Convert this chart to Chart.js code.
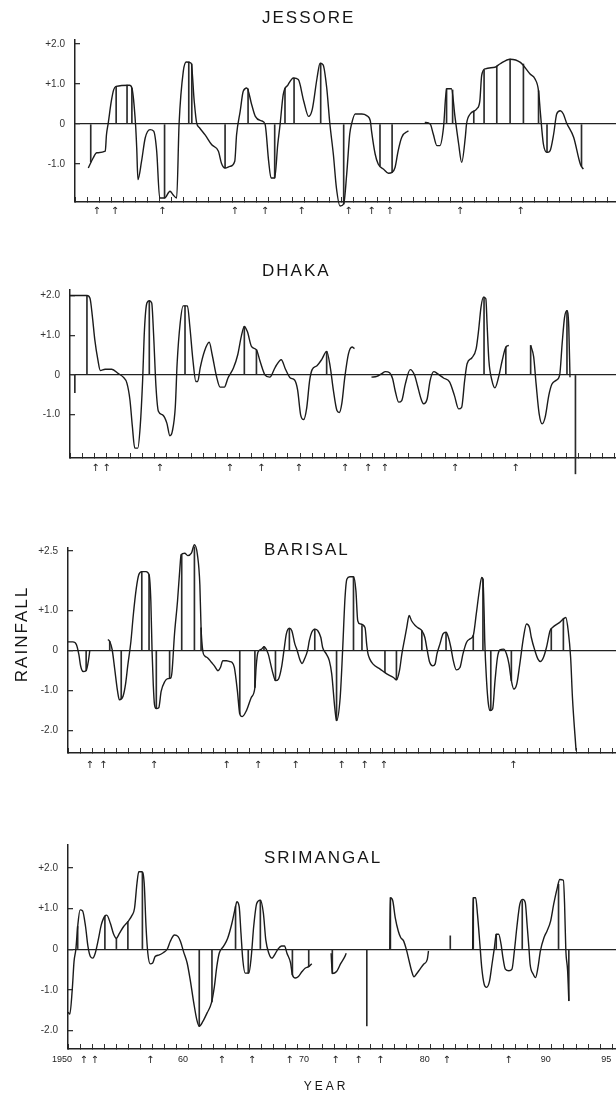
<!DOCTYPE html>
<html>
<head>
<meta charset="utf-8">
<title>Rainfall anomalies</title>
<script src="https://cdn.jsdelivr.net/npm/chart.js@4.4.1/dist/chart.umd.min.js"></script>
<style>
    html, body { margin: 0; padding: 0; background: #fff; }
    #wrap { position: relative; width: 616px; height: 1097px; overflow: hidden; }
    .panel { position: absolute; left: 0; width: 616px; }
</style>
</head>
<body>
<div id="wrap">
    <div class="panel" style="top:0;height:250px"><canvas id="jessore"></canvas></div>
    <div class="panel" style="top:250px;height:275px"><canvas id="dhaka"></canvas></div>
    <div class="panel" style="top:525px;height:285px"><canvas id="barisal"></canvas></div>
    <div class="panel" style="top:810px;height:287px"><canvas id="srimangal"></canvas></div>
</div>
<script>
// ---- data (year, standardised rainfall anomaly) ----
// null = break in the curve

const decadeTicks = [1950, 1960, 1970, 1980, 1990, 1995];
const decadeLabels = ["1950", "60", "70", "80", "90", "95"];

// JESSORE
const jessoreYears = [1951.1, 1951.5, 1951.8, 1952.5, 1952.6, 1952.75, 1953.0, 1953.2, 1953.4, 1954.5, 1954.7, 1955.0, 1955.1, 1955.2, 1955.5, 1955.8, 1956.2, 1956.5, 1956.75, 1957.0, 1957.4, 1957.85, 1958.1, 1958.4, 1958.6, 1958.95, 1959.2, 1959.6, 1959.85, 1960.05, 1960.3, 1960.75, 1961.3, 1961.85, 1962.1, 1962.4, 1962.8, 1963.2, 1963.35, 1963.65, 1963.9, 1964.2, 1964.6, 1964.9, 1965.4, 1965.7, 1966.0, 1966.2, 1966.5, 1966.75, 1966.95, 1967.2, 1967.6, 1968.05, 1968.45, 1968.9, 1969.3, 1969.6, 1970.0, 1970.25, 1970.5, 1970.8, 1971.05, 1971.35, 1971.6, 1971.9, 1972.2, 1972.45, 1972.7, 1972.85, 1973.15, 1973.7, 1974.1, 1974.4, 1974.5, 1974.8, 1975.05, 1975.5, 1975.9, 1976.2, 1976.45, 1976.7, 1977.0, 1977.55, 1978.2, 1978.9, 1979.35, 1979.6, 1979.9, 1980.15, 1980.45, 1980.7, 1981.1, 1981.4, 1981.7, 1981.95, 1982.25, 1982.35, 1982.65, 1983.2, 1983.45, 1983.6, 1983.9, 1984.7, 1985.1, 1985.95, 1986.8, 1987.6, 1988.0, 1988.3, 1988.45, 1988.7, 1989.0, 1989.25, 1989.55, 1989.8, 1990.1, 1990.35, 1990.6, 1991.2, 1991.75, 1992.0];
const jessoreRain = [-1.10, -0.85, -0.72, -0.68, -0.27, 0.03, 0.57, 0.86, 0.94, 0.97, 0.90, 0.0, -0.60, -1.39, -0.93, -0.35, -0.14, -0.18, -0.68, -1.85, -1.85, -1.68, -1.77, -1.85, 0.0, 1.32, 1.55, 1.52, 0.57, 0.03, -0.10, -0.27, -0.52, -0.68, -0.98, -1.10, -1.06, -0.93, -0.27, 0.32, 0.82, 0.90, 0.48, 0.19, 0.08, 0.0, -0.93, -1.35, -1.35, -0.52, 0.0, 0.73, 0.98, 1.15, 1.11, 0.57, 0.19, 0.36, 1.15, 1.52, 1.48, 0.90, 0.03, -0.77, -1.60, -2.05, -2.0, -1.25, -0.25, 0.0, 0.25, 0.25, 0.21, 0.08, -0.17, -0.75, -1.0, -1.13, -1.23, -1.21, -1.08, -0.67, -0.33, -0.17, null, 0.04, 0.0, -0.25, -0.54, -0.54, -0.08, 0.88, 0.88, 0.17, -0.50, -0.96, -0.33, 0.0, 0.25, 0.38, 0.58, 1.21, 1.38, 1.42, 1.50, 1.62, 1.54, 1.25, 1.13, 0.83, 0.29, -0.50, -0.71, -0.67, -0.25, 0.25, 0.33, 0.25, 0.04, -0.33, -1.0, -1.13];
const jessoreStemYears = [1951.3, 1953.4, 1954.3, 1954.7, 1957.4, 1959.4, 1959.65, 1962.4, 1964.3, 1966.5, 1967.35, 1968.1, 1970.3, 1972.2, 1975.2, 1976.2, 1980.7, 1981.2, 1982.95, 1983.8, 1984.85, 1985.95, 1987.05, 1988.3, 1989.0, 1991.85];
const jessoreStemRain = [-0.95, 0.94, 0.97, 0.90, -1.85, 1.55, 1.50, -1.10, 0.88, -1.35, 0.90, 1.15, 1.52, -2.0, -1.05, -1.21, 0.88, 0.85, 0.32, 1.35, 1.45, 1.62, 1.50, 0.83, -0.71, -1.05];
const jessoreArrows = [1951.8, 1953.3, 1957.2, 1963.2, 1965.7, 1968.7, 1972.6, 1974.5, 1976.0, 1981.8, 1986.8];

// DHAKA
const dhakaYears = [1950.0, 1951.4, 1951.65, 1951.85, 1952.05, 1952.3, 1952.5, 1952.9, 1953.45, 1954.0, 1954.4, 1954.7, 1954.95, 1955.15, 1955.35, 1955.6, 1955.8, 1956.0, 1956.15, 1956.35, 1956.55, 1956.75, 1956.9, 1957.1, 1957.3, 1957.65, 1958.0, 1958.25, 1958.45, 1958.7, 1958.85, 1959.1, 1959.35, 1959.7, 1959.9, 1960.15, 1960.4, 1960.55, 1960.75, 1961.1, 1961.5, 1961.75, 1962.1, 1962.4, 1962.75, 1963.05, 1963.5, 1963.85, 1964.15, 1964.4, 1964.65, 1965.0, 1965.4, 1965.7, 1966.1, 1966.5, 1966.95, 1967.45, 1967.8, 1968.2, 1968.55, 1968.8, 1969.05, 1969.3, 1969.55, 1969.8, 1970.0, 1970.4, 1970.8, 1971.2, 1971.5, 1971.75, 1972.05, 1972.25, 1972.45, 1972.7, 1973.0, 1973.3, 1973.5, 1974.2, 1974.9, 1975.35, 1975.75, 1976.05, 1976.4, 1976.65, 1976.85, 1977.15, 1977.4, 1977.7, 1978.1, 1978.45, 1978.7, 1979.0, 1979.2, 1979.5, 1979.75, 1980.05, 1980.35, 1980.85, 1981.35, 1981.75, 1982.1, 1982.35, 1982.6, 1982.8, 1983.2, 1983.55, 1983.75, 1983.95, 1984.15, 1984.35, 1984.45, 1984.6, 1984.85, 1985.1, 1985.4, 1985.7, 1986.0, 1986.25, 1987.1, 1988.05, 1988.3, 1988.5, 1988.75, 1989.0, 1989.25, 1989.55, 1989.8, 1990.15, 1990.45, 1990.65, 1990.85, 1991.05, 1991.2, 1991.3];
const dhakaRain = [2.0, 2.0, 1.93, 1.47, 0.88, 0.38, 0.11, 0.14, 0.14, 0.03, -0.06, -0.21, -0.63, -1.30, -1.85, -1.85, -1.30, -0.13, 1.13, 1.81, 1.87, 1.81, 1.05, -0.29, -0.92, -1.01, -1.22, -1.54, -1.43, -0.80, 0.29, 1.30, 1.74, 1.74, 1.22, 0.38, -0.17, -0.17, 0.17, 0.59, 0.82, 0.50, -0.04, -0.31, -0.31, -0.08, 0.17, 0.50, 0.97, 1.22, 1.09, 0.71, 0.63, 0.34, 0.0, -0.06, 0.19, 0.38, 0.14, -0.08, -0.13, -0.38, -1.01, -1.13, -0.84, -0.13, 0.13, 0.23, 0.39, 0.59, 0.19, -0.38, -0.90, -0.95, -0.73, -0.06, 0.53, 0.70, 0.66, null, -0.06, -0.04, 0.03, 0.08, 0.05, -0.10, -0.39, -0.69, -0.65, -0.23, 0.13, 0.0, -0.27, -0.61, -0.73, -0.61, -0.14, 0.08, 0.03, -0.08, -0.18, -0.52, -0.86, -0.82, -0.14, 0.28, 0.43, 0.66, 1.12, 1.71, 1.96, 1.92, 1.29, 0.36, -0.14, -0.33, -0.06, 0.36, 0.70, 0.74, null, 0.74, 0.45, -0.23, -0.98, -1.24, -1.07, -0.52, -0.24, -0.14, 0.0, 0.78, 1.45, 1.62, 1.20, -0.06];
const dhakaStemYears = [1950.4, 1951.4, 1956.55, 1959.5, 1964.4, 1965.4, 1971.2, 1984.2, 1986.0, 1988.05, 1991.05, 1991.75];
const dhakaStemRain = [-0.45, 2.0, 1.87, 1.74, 1.22, 0.63, 0.59, 1.96, 0.70, 0.74, 1.62, -2.5];
const dhakaArrows = [1952.1, 1953.0, 1957.4, 1963.2, 1965.8, 1968.9, 1972.7, 1974.6, 1976.0, 1981.8, 1986.8];

// BARISAL
const barisalYears = [1950.0, 1950.4, 1950.7, 1950.9, 1951.05, 1951.25, 1951.5, 1951.7, 1951.8, 1952.5, 1953.3, 1953.45, 1953.65, 1953.85, 1954.1, 1954.25, 1954.55, 1954.75, 1954.95, 1955.2, 1955.4, 1955.65, 1955.85, 1956.1, 1956.45, 1956.7, 1956.85, 1956.95, 1957.05, 1957.15, 1957.3, 1957.5, 1957.7, 1958.0, 1958.25, 1958.5, 1958.6, 1958.8, 1959.05, 1959.25, 1959.35, 1959.65, 1959.9, 1960.2, 1960.45, 1960.7, 1960.9, 1961.0, 1961.15, 1961.3, 1961.55, 1961.85, 1962.1, 1962.4, 1962.6, 1962.8, 1963.1, 1963.35, 1963.55, 1963.75, 1964.0, 1964.2, 1964.4, 1964.75, 1965.15, 1965.45, 1965.55, 1965.7, 1966.0, 1966.2, 1966.55, 1966.75, 1966.95, 1967.15, 1967.4, 1967.65, 1967.85, 1968.05, 1968.3, 1968.5, 1968.75, 1968.95, 1969.15, 1969.35, 1969.55, 1969.8, 1969.95, 1970.15, 1970.4, 1970.65, 1970.9, 1971.05, 1971.35, 1971.6, 1971.8, 1972.05, 1972.2, 1972.5, 1972.7, 1972.9, 1973.05, 1973.3, 1973.6, 1973.8, 1973.95, 1974.15, 1974.55, 1974.7, 1974.8, 1974.95, 1975.2, 1975.8, 1976.35, 1976.9, 1977.15, 1977.4, 1977.6, 1977.8, 1978.0, 1978.2, 1978.4, 1978.7, 1978.95, 1979.25, 1979.5, 1979.7, 1979.9, 1980.15, 1980.35, 1980.5, 1980.75, 1981.0, 1981.25, 1981.45, 1981.65, 1981.85, 1982.1, 1982.4, 1982.65, 1982.95, 1983.2, 1983.5, 1983.75, 1984.0, 1984.2, 1984.3, 1984.4, 1984.45, 1984.6, 1984.75, 1984.9, 1985.1, 1985.3, 1985.5, 1985.7, 1986.0, 1986.25, 1986.45, 1986.65, 1986.85, 1987.1, 1987.35, 1987.65, 1987.9, 1988.15, 1988.3, 1988.6, 1988.85, 1989.05, 1989.3, 1989.55, 1989.85, 1990.05, 1990.65, 1991.15, 1991.35, 1991.55, 1991.7, 1992.0];
const barisalRain = [0.22, 0.22, 0.15, -0.10, -0.39, -0.52, -0.50, -0.23, 0.0, null, 0.28, 0.23, 0.03, -0.43, -1.02, -1.23, -1.14, -0.85, -0.35, 0.23, 0.90, 1.57, 1.90, 1.98, 1.98, 1.90, 1.23, -0.02, -0.85, -1.35, -1.45, -1.43, -1.02, -0.77, -0.70, -0.68, -0.52, 0.40, 1.23, 2.07, 2.40, 2.44, 2.38, 2.44, 2.65, 2.40, 1.65, 0.57, -0.02, -0.13, -0.18, -0.29, -0.38, -0.50, -0.42, -0.25, -0.25, -0.27, -0.29, -0.42, -1.0, -1.58, -1.65, -1.50, -1.17, -0.92, -0.42, -0.04, 0.04, 0.10, -0.08, -0.33, -0.58, -0.75, -0.71, -0.42, 0.0, 0.42, 0.56, 0.50, 0.17, 0.0, -0.21, -0.32, -0.21, 0.0, 0.25, 0.46, 0.54, 0.50, 0.33, 0.08, -0.08, -0.25, -0.58, -1.42, -1.75, -1.17, 0.0, 1.33, 1.79, 1.85, 1.85, 1.50, 0.75, 0.67, 0.58, 0.13, -0.08, -0.21, -0.33, -0.46, -0.58, -0.67, -0.73, -0.50, -0.08, 0.25, 0.58, 0.88, 0.75, 0.63, 0.57, 0.50, 0.33, 0.0, -0.29, -0.38, -0.33, -0.08, 0.17, 0.42, 0.46, 0.33, 0.08, -0.25, -0.48, -0.42, -0.08, 0.21, 0.29, 0.38, 0.92, 1.50, 1.83, 1.79, 0.92, 0.25, -0.75, -1.33, -1.50, -1.46, -0.75, -0.17, 0.02, 0.04, -0.08, -0.33, -0.75, -0.96, -0.83, -0.33, 0.33, 0.67, 0.58, 0.33, 0.0, -0.21, -0.27, -0.17, 0.08, 0.50, 0.58, 0.71, 0.83, 0.50, -0.17, -1.17, -2.5];
const barisalStemYears = [1951.5, 1953.45, 1954.4, 1956.1, 1956.7, 1957.3, 1958.4, 1959.4, 1960.45, 1961.0, 1964.2, 1965.45, 1966.2, 1967.15, 1968.3, 1970.4, 1972.2, 1973.6, 1974.3, 1976.2, 1977.15, 1979.25, 1981.25, 1983.5, 1984.3, 1984.95, 1986.65, 1989.95, 1990.95];
const barisalStemRain = [-0.50, 0.23, -1.20, 1.98, 1.90, -1.45, -0.70, 2.40, 2.60, 0.57, -1.58, -0.92, 0.10, -0.75, 0.56, 0.54, -1.75, 1.85, 0.63, -0.55, -0.73, 0.50, 0.46, 0.38, 1.79, -1.50, -0.75, 0.55, 0.80];
const barisalArrows = [1951.8, 1952.9, 1957.1, 1963.1, 1965.7, 1968.8, 1972.6, 1974.5, 1976.1, 1986.8];

// SRIMANGAL
const srimangalYears = [1950.0, 1950.15, 1950.35, 1950.5, 1950.65, 1950.8, 1951.0, 1951.2, 1951.45, 1951.65, 1951.85, 1952.05, 1952.25, 1952.5, 1952.75, 1953.05, 1953.2, 1953.5, 1953.75, 1954.0, 1954.25, 1954.6, 1954.95, 1955.3, 1955.5, 1955.7, 1955.85, 1956.1, 1956.3, 1956.45, 1956.6, 1956.8, 1957.0, 1957.2, 1957.55, 1957.9, 1958.2, 1958.45, 1958.8, 1959.1, 1959.3, 1959.55, 1959.85, 1960.1, 1960.4, 1960.65, 1960.85, 1961.15, 1961.5, 1961.85, 1962.1, 1962.3, 1962.5, 1962.85, 1963.2, 1963.55, 1963.85, 1963.95, 1964.15, 1964.3, 1964.45, 1964.65, 1964.95, 1965.15, 1965.35, 1965.6, 1965.9, 1966.15, 1966.35, 1966.6, 1966.85, 1967.15, 1967.35, 1967.65, 1967.9, 1968.1, 1968.4, 1968.55, 1968.8, 1969.05, 1969.35, 1969.6, 1969.9, 1970.15, 1971.0, 1971.75, 1971.85, 1972.2, 1972.55, 1972.85, 1973.0, 1975.0, 1976.6, 1976.65, 1976.85, 1977.05, 1977.3, 1977.5, 1977.75, 1978.0, 1978.2, 1978.4, 1978.6, 1978.8, 1979.1, 1979.4, 1979.7, 1979.8, 1981.0, 1983.45, 1983.5, 1983.7, 1983.85, 1984.05, 1984.2, 1984.4, 1984.6, 1984.85, 1985.05, 1985.25, 1985.4, 1985.6, 1985.8, 1985.95, 1986.15, 1986.45, 1986.7, 1986.9, 1987.1, 1987.35, 1987.6, 1987.8, 1987.95, 1988.1, 1988.2, 1988.45, 1988.65, 1988.85, 1989.05, 1989.35, 1989.6, 1989.9, 1990.15, 1990.45, 1990.65, 1990.95, 1991.05, 1991.15, 1991.3, 1991.4];
const srimangalRain = [-1.55, -1.60, -1.0, -0.30, 0.0, 0.56, 0.97, 0.95, 0.56, 0.07, -0.18, -0.22, -0.10, 0.23, 0.60, 0.82, 0.84, 0.64, 0.39, 0.27, 0.39, 0.56, 0.68, 0.84, 1.01, 1.62, 1.91, 1.91, 1.62, 0.56, -0.10, -0.36, -0.34, -0.18, -0.14, -0.08, 0.0, 0.19, 0.35, 0.31, 0.19, -0.06, -0.34, -0.75, -1.33, -1.74, -1.90, -1.78, -1.57, -1.33, -0.92, -0.43, -0.10, 0.07, 0.27, 0.64, 1.05, 1.17, 1.05, 0.39, -0.26, -0.59, -0.59, -0.18, 0.56, 1.13, 1.21, 0.89, 0.23, -0.10, -0.22, -0.10, 0.0, 0.08, 0.08, -0.10, -0.34, -0.63, -0.71, -0.67, -0.55, -0.47, -0.43, -0.36, null, -0.10, -0.60, -0.55, -0.35, -0.20, -0.10, null, 0.0, 1.27, 1.19, 0.78, 0.45, 0.29, 0.20, -0.04, -0.29, -0.53, -0.68, -0.61, -0.49, -0.37, -0.25, -0.04, null, 0.0, 1.27, 1.27, 0.86, 0.12, -0.45, -0.86, -0.94, -0.78, -0.37, 0.04, 0.37, 0.37, 0.12, -0.20, -0.49, -0.53, -0.49, -0.04, 0.53, 1.11, 1.23, 1.15, 0.61, 0.04, -0.37, -0.61, -0.70, -0.45, -0.04, 0.29, 0.45, 0.70, 1.11, 1.52, 1.72, 1.70, 1.11, 0.0, -0.53, -1.27];
const srimangalStemYears = [1950.8, 1953.05, 1954.0, 1954.95, 1956.15, 1960.85, 1961.9, 1963.85, 1964.9, 1965.9, 1968.55, 1969.9, 1971.85, 1974.7, 1976.65, 1981.6, 1983.5, 1985.4, 1987.55, 1990.55, 1991.4];
const srimangalStemRain = [0.56, 0.82, 0.27, 0.68, 1.90, -1.90, -1.30, 1.05, -0.59, 1.21, -0.63, -0.43, -0.60, -1.89, 1.27, 0.33, 1.27, 0.37, 1.20, 1.60, -1.27];
const srimangalArrows = [1951.3, 1952.2, 1956.8, 1962.7, 1965.2, 1968.3, 1972.1, 1974.0, 1975.8, 1981.3, 1986.4];

// ---- drawing ----

// writes panel names and axis captions straight on the canvas
const panelText = {
    id: "panelText",
    afterDraw(chart, args, opts) {
        const ctx = chart.ctx;
        (opts.items || []).forEach((t) => {
            ctx.save();
            ctx.fillStyle = "#151515";
            ctx.font = t.font || "17px 'Liberation Sans', Arial, sans-serif";
            ctx.letterSpacing = t.spacing || "2px";
            ctx.textBaseline = "middle";
            ctx.textAlign = t.align || "left";
            ctx.translate(t.x, t.y);
            if (t.rotate) ctx.rotate(t.rotate);
            ctx.fillText(t.text, 0, 0);
            ctx.restore();
        });
    },
};
Chart.register(panelText);

const fmtRain = (v) => (v === 0 ? "0" : (v > 0 ? "+" : "-") + Math.abs(v).toFixed(1));

// decade labels sit a little left of their tick in the original
const decadeLabelShift = 0.5;

function makePanel(id, o) {
    const curve = o.years.map((x, i) => ({ x: x, y: o.rain[i] }));
    const stems = o.stemYears.map((x, i) => ({ x: x, y: o.stemRain[i] }));
    const everyYear = [];
    for (let yr = 1950; yr <= o.xMax; yr++) everyYear.push(yr);

    // bottom row: decade labels (last panel only) then the arrows
    const labelRow = o.yearLabels ? decadeTicks.map((v) => v - decadeLabelShift) : [];
    const nDecades = labelRow.length;
    const rowTicks = labelRow.concat(o.arrows);

    return new Chart(document.getElementById(id), {
        type: "line",
        data: {
            datasets: [
                {
                    type: "bar",
                    data: stems,
                    backgroundColor: "#2b2b2b",
                    barThickness: 1,
                    clip: false,
                    order: 2,
                },
                {
                    type: "line",
                    data: curve,
                    borderColor: "#1b1b1b",
                    borderWidth: 1.4,
                    pointRadius: 0,
                    cubicInterpolationMode: "monotone",
                    spanGaps: false,
                    clip: false,
                    order: 1,
                },
            ],
        },
        options: {
            animation: false,
            responsive: true,
            maintainAspectRatio: false,
            events: [],
            layout: { padding: { top: o.top, left: 0, right: 0, bottom: 0 } },
            plugins: {
                legend: { display: false },
                tooltip: { enabled: false },
                panelText: { items: o.texts },
            },
            scales: {
                // yearly tick marks on the axis line
                x: {
                    type: "linear",
                    min: 1950,
                    max: o.xMax,
                    offset: false,
                    weight: 0,
                    afterBuildTicks: (ax) => {
                        ax.ticks = everyYear.map((v) => ({ value: v }));
                    },
                    afterFit: (ax) => {
                        ax.height = 1;
                        ax.paddingLeft = 0;
                        ax.paddingRight = 0;
                    },
                    grid: { offset: false, drawOnChartArea: false, drawTicks: true, tickLength: -5, tickColor: "#333", tickWidth: 1 },
                    border: { display: true, color: "#222", width: 1.5 },
                    ticks: { display: false },
                },
                // decade labels and the little arrows under the axis
                x2: {
                    type: "linear",
                    position: "bottom",
                    min: 1950,
                    max: o.xMax,
                    offset: false,
                    weight: 1,
                    afterBuildTicks: (ax) => {
                        ax.ticks = rowTicks.map((v) => ({ value: v }));
                    },
                    afterFit: (ax) => {
                        ax.height = o.x2Height;
                        ax.paddingLeft = 0;
                        ax.paddingRight = 0;
                    },
                    grid: { display: false, drawTicks: false },
                    border: { display: false },
                    ticks: {
                        autoSkip: false,
                        maxRotation: 0,
                        padding: o.arrowPad,
                        color: "#222",
                        font: (c) =>
                            c.index < nDecades
                                ? { family: "'Liberation Sans', Arial, sans-serif", size: 9 }
                                : { family: "'DejaVu Sans', sans-serif", size: 10 },
                        callback: (v, i) => (i < nDecades ? decadeLabels[i] : "\u2191"),
                    },
                },
                y: {
                    min: o.yMin,
                    max: o.yMax,
                    afterBuildTicks: (ax) => {
                        ax.ticks = o.yTicks.map((v) => ({ value: v }));
                    },
                    afterFit: (ax) => {
                        ax.width = o.left;
                        ax.paddingTop = 0;
                        ax.paddingBottom = 0;
                    },
                    grid: {
                        drawOnChartArea: true,
                        color: (c) => (c.tick && c.tick.value === 0 ? "#222" : "rgba(0,0,0,0)"),
                        lineWidth: 1.3,
                        drawTicks: true,
                        tickLength: -5,
                        tickColor: "#333",
                    },
                    border: { display: true, color: "#222", width: 1.5 },
                    ticks: {
                        padding: 15,
                        color: "#333",
                        font: { family: "'Liberation Sans', Arial, sans-serif", size: 10 },
                        callback: (v) => fmtRain(v),
                    },
                },
            },
        },
    });
}

makePanel("jessore", {
    years: jessoreYears, rain: jessoreRain,
    stemYears: jessoreStemYears, stemRain: jessoreStemRain, arrows: jessoreArrows,
    yMin: -1.95, yMax: 2.1, yTicks: [-1, 0, 1, 2],
    xMax: 1994.7, left: 75, top: 40, x2Height: 47, arrowPad: 2, yearLabels: false,
    texts: [{ text: "JESSORE", x: 262, y: 18 }],
});

makePanel("dhaka", {
    years: dhakaYears, rain: dhakaRain,
    stemYears: dhakaStemYears, stemRain: dhakaStemRain, arrows: dhakaArrows,
    yMin: -2.1, yMax: 2.14, yTicks: [-1, 0, 1, 2],
    xMax: 1995.1, left: 70, top: 40, x2Height: 66, arrowPad: 3, yearLabels: false,
    texts: [{ text: "DHAKA", x: 262, y: 21 }],
});

makePanel("barisal", {
    years: barisalYears, rain: barisalRain,
    stemYears: barisalStemYears, stemRain: barisalStemRain, arrows: barisalArrows,
    yMin: -2.56, yMax: 2.57, yTicks: [-2, -1, 0, 1, 2.5],
    xMax: 1995.3, left: 68, top: 23, x2Height: 56, arrowPad: 5, yearLabels: false,
    texts: [
        { text: "BARISAL", x: 264, y: 25 },
        { text: "RAINFALL", x: 22, y: 109, rotate: -Math.PI / 2, align: "center" },
    ],
});

makePanel("srimangal", {
    years: srimangalYears, rain: srimangalRain,
    stemYears: srimangalStemYears, stemRain: srimangalStemRain, arrows: srimangalArrows,
    yMin: -2.46, yMax: 2.57, yTicks: [-2, -1, 0, 1, 2],
    xMax: 1995.3, left: 68, top: 35, x2Height: 47, arrowPad: 4, yearLabels: true,
    texts: [
        { text: "SRIMANGAL", x: 264, y: 48 },
        { text: "YEAR", x: 326, y: 277, align: "center", font: "12px 'Liberation Sans', Arial, sans-serif", spacing: "3px" },
    ],
});
</script>
</body>
</html>
